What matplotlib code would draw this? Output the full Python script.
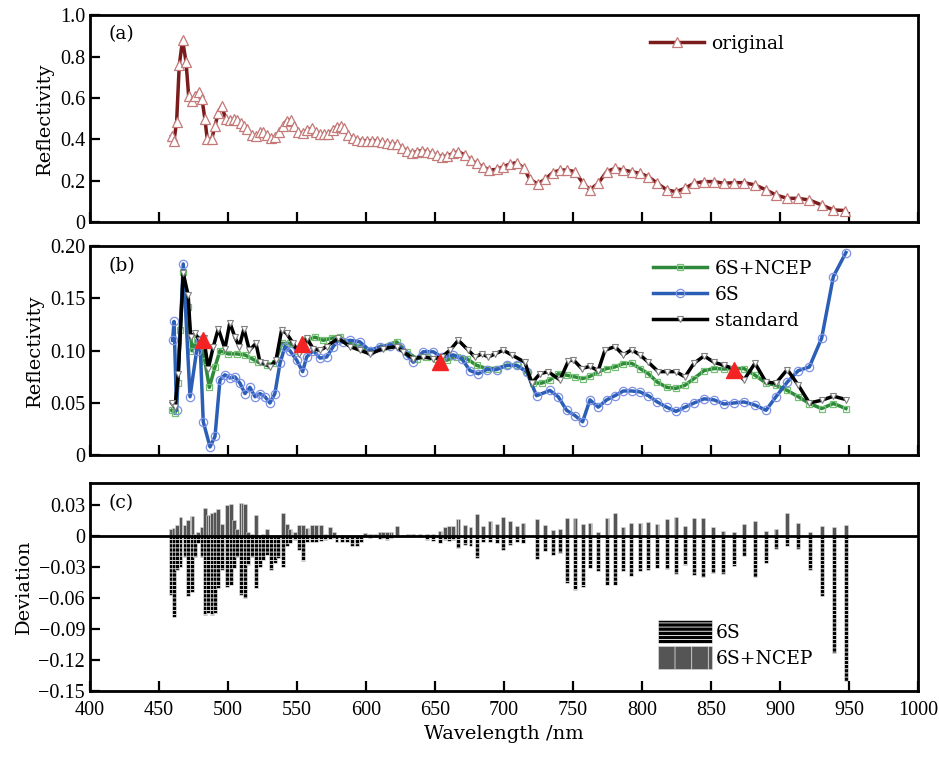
import matplotlib; matplotlib.use('Agg')
import numpy as np
import matplotlib.pyplot as plt

plt.rcParams['font.family'] = ['DejaVu Serif']
plt.rcParams['hatch.linewidth'] = 0.6

# (a) original reflectivity
wl_a = [459.2, 460.9, 462.8, 464.7, 467.1, 469.6, 471.5, 473.9, 476.3, 478.7, 481.2, 483.3, 485.0, 488.2,
        490.6, 493.0, 495.4, 498.6, 501.4, 504.3, 506.8, 509.2, 511.6, 514.0, 517.2, 520.3, 523.2, 525.6,
        528.0, 531.0, 534.0, 537.2, 540.0, 542.5, 545.4, 547.8, 551.0, 554.1, 557.5, 560.6, 563.8, 566.7,
        569.6, 572.7, 575.9, 578.7, 581.6, 584.1, 587.2, 590.3, 593.7, 597.3, 600.9, 604.1, 607.7, 611.3,
        615.0, 618.6, 622.2, 625.9, 629.5, 633.1, 636.7, 640.3, 644.0, 647.6, 651.2, 654.8, 658.5, 663.3,
        666.9, 671.7, 675.9, 680.2, 684.6, 689.4, 694.7, 699.5, 704.3, 709.2, 714.5, 718.8, 724.4, 729.7,
        735.3, 740.6, 745.9, 751.4, 757.0, 762.3, 768.3, 774.4, 780.4, 786.5, 792.5, 798.6, 804.6, 811.1,
        817.9, 824.6, 831.2, 837.7, 845.0, 852.2, 859.4, 866.7, 873.9, 881.9, 889.9, 897.1, 905.3, 913.3,
        921.3, 930.2, 938.7, 947.1]
original = [0.415, 0.393, 0.485, 0.758, 0.88, 0.775, 0.61, 0.585, 0.61, 0.628, 0.594, 0.497, 0.40, 0.40,
            0.464, 0.528, 0.56, 0.496, 0.495, 0.496, 0.495, 0.477, 0.464, 0.448, 0.42, 0.415, 0.433, 0.433,
            0.42, 0.404, 0.41, 0.436, 0.464, 0.49, 0.493, 0.464, 0.436, 0.428, 0.444, 0.452, 0.436, 0.426,
            0.426, 0.426, 0.444, 0.46, 0.464, 0.452, 0.42, 0.404, 0.396, 0.393, 0.393, 0.393, 0.393, 0.385,
            0.38, 0.377, 0.377, 0.36, 0.345, 0.332, 0.34, 0.345, 0.34, 0.332, 0.324, 0.316, 0.318, 0.332,
            0.34, 0.324, 0.30, 0.283, 0.267, 0.251, 0.254, 0.267, 0.28, 0.287, 0.259, 0.206, 0.184, 0.206,
            0.238, 0.251, 0.251, 0.243, 0.19, 0.155, 0.187, 0.243, 0.259, 0.251, 0.243, 0.235, 0.219, 0.187,
            0.155, 0.146, 0.163, 0.187, 0.195, 0.195, 0.187, 0.19, 0.19, 0.179, 0.155, 0.13, 0.114, 0.114,
            0.106, 0.082, 0.058, 0.055]

# (b) corrected reflectivity
wl_ncep = [459.2, 461.6, 463.5, 465.5, 467.6, 471.2, 473.9, 477.3, 480.5, 483.3, 486.5, 490.6, 494.2, 500.2,
           506.3, 512.3, 517.2, 522.0, 528.0, 534.0, 538.9, 544.9, 550.9, 557.0, 563.0, 569.0, 575.1, 581.2,
           588.4, 595.6, 602.9, 612.5, 622.2, 629.5, 636.7, 644.0, 651.2, 658.5, 665.7, 673.0, 680.2, 687.4,
           694.7, 701.9, 709.2, 716.4, 721.2, 727.3, 733.3, 739.3, 745.4, 751.4, 757.0, 762.3, 768.3, 774.4,
           780.4, 786.5, 792.5, 798.6, 804.6, 811.1, 817.9, 824.6, 831.2, 837.7, 845.0, 852.2, 859.4, 866.7,
           873.9, 881.9, 889.9, 897.1, 905.3, 913.3, 921.3, 930.2, 938.7, 947.8]
ncep = [0.043, 0.040, 0.069, 0.120, 0.175, 0.142, 0.100, 0.110, 0.105, 0.090, 0.065, 0.0845, 0.100, 0.097,
        0.097, 0.096, 0.0925, 0.089, 0.086, 0.088, 0.107, 0.107, 0.100, 0.110, 0.113, 0.110, 0.112, 0.113,
        0.107, 0.104, 0.100, 0.104, 0.1085, 0.099, 0.0925, 0.094, 0.0925, 0.091, 0.094, 0.0925, 0.086, 0.083,
        0.083, 0.086, 0.086, 0.080, 0.069, 0.069, 0.072, 0.078, 0.0766, 0.075, 0.0734, 0.0755, 0.0797, 0.083,
        0.0845, 0.0877, 0.088, 0.083, 0.078, 0.070, 0.065, 0.064, 0.067, 0.0734, 0.081, 0.083, 0.0825, 0.083,
        0.083, 0.0766, 0.069, 0.067, 0.062, 0.056, 0.0495, 0.0447, 0.0495, 0.0447]

wl_6s = [459.9, 460.9, 462.8, 467.6, 472.5, 477.3, 479.7, 482.1, 487.0, 490.6, 494.2, 497.8, 501.4, 505.0,
         508.7, 512.3, 515.9, 519.6, 523.2, 526.8, 530.4, 534.0, 537.7, 541.3, 544.9, 549.8, 554.1, 557.0,
         561.8, 566.7, 571.5, 576.3, 579.9, 583.6, 588.4, 595.6, 602.9, 610.1, 617.4, 624.6, 629.5, 634.3,
         641.5, 648.8, 654.8, 663.3, 669.3, 675.4, 681.4, 687.4, 694.7, 701.9, 709.2, 716.4, 723.6, 733.3,
         739.3, 745.4, 751.4, 757.0, 762.3, 768.3, 774.4, 780.4, 786.5, 792.5, 798.6, 804.6, 811.1, 817.9,
         824.6, 831.2, 837.7, 845.0, 852.2, 859.4, 866.7, 873.9, 881.9, 889.9, 897.1, 905.3, 913.3, 921.3,
         930.2, 938.7, 947.8]
s6 = [0.110, 0.128, 0.043, 0.183, 0.056, 0.100, 0.110, 0.032, 0.008, 0.018, 0.072, 0.077, 0.074, 0.075,
      0.069, 0.059, 0.065, 0.056, 0.059, 0.056, 0.050, 0.059, 0.088, 0.104, 0.100, 0.091, 0.080, 0.094,
      0.100, 0.093, 0.094, 0.104, 0.110, 0.108, 0.110, 0.1085, 0.100, 0.104, 0.105, 0.104, 0.096, 0.089,
      0.099, 0.099, 0.094, 0.096, 0.0925, 0.081, 0.078, 0.082, 0.082, 0.086, 0.086, 0.080, 0.057, 0.062,
      0.056, 0.043, 0.038, 0.032, 0.053, 0.046, 0.053, 0.057, 0.0615, 0.0615, 0.0606, 0.057, 0.051, 0.046,
      0.042, 0.046, 0.050, 0.054, 0.053, 0.049, 0.050, 0.051, 0.048, 0.043, 0.056, 0.070, 0.081, 0.0845,
      0.112, 0.171, 0.194]

wl_std = [459.2, 461.6, 464.0, 467.6, 471.2, 472.9, 476.0, 479.7, 482.5, 485.7, 489.4, 493.0, 497.8, 501.4,
          505.0, 508.2, 511.6, 515.5, 520.3, 523.2, 526.8, 530.4, 534.8, 538.9, 542.5, 547.3, 551.7, 557.0,
          561.8, 566.7, 571.5, 579.9, 588.4, 595.6, 602.9, 612.5, 622.2, 627.0, 634.3, 641.5, 648.8, 654.8,
          660.9, 666.9, 674.2, 679.0, 683.9, 688.7, 693.5, 699.5, 705.6, 715.2, 720.1, 726.1, 732.1, 740.6,
          746.6, 750.2, 756.3, 762.3, 768.3, 773.2, 780.4, 786.5, 792.5, 798.6, 804.6, 811.8, 817.9, 824.6,
          831.2, 837.7, 845.0, 852.2, 859.4, 866.2, 873.9, 881.9, 889.9, 897.1, 905.3, 913.3, 921.3, 930.2,
          938.7, 947.8]
standard = [0.050, 0.046, 0.078, 0.174, 0.153, 0.113, 0.1165, 0.110, 0.112, 0.083, 0.104, 0.121, 0.102, 0.127,
            0.113, 0.104, 0.121, 0.1005, 0.107, 0.089, 0.088, 0.0845, 0.091, 0.120, 0.1165, 0.107, 0.097, 0.112,
            0.102, 0.1005, 0.104, 0.112, 0.104, 0.1005, 0.097, 0.102, 0.104, 0.099, 0.0925, 0.094, 0.0925, 0.094,
            0.1005, 0.110, 0.1005, 0.094, 0.097, 0.094, 0.097, 0.1005, 0.096, 0.089, 0.069, 0.078, 0.080, 0.072,
            0.090, 0.0915, 0.083, 0.085, 0.081, 0.1005, 0.104, 0.096, 0.101, 0.096, 0.089, 0.080, 0.080, 0.080,
            0.075, 0.088, 0.095, 0.089, 0.086, 0.083, 0.072, 0.088, 0.070, 0.069, 0.082, 0.067, 0.050, 0.0526,
            0.0565, 0.0533]

wl_mark = [482, 554, 654, 867]
mark = [0.110, 0.106, 0.089, 0.082]

# (c) deviation
wl_c = [458.5, 460.9, 463.2, 465.6, 468.8, 471.3, 473.7, 476.1, 478.5, 480.9, 483.3, 485.8, 488.2, 490.6,
        493.0, 495.4, 499.5, 502.0, 504.4, 506.8, 509.2, 512.3, 514.7, 517.2, 520.3, 523.2, 525.6, 528.5,
        530.9, 534.1, 536.5, 539.6, 542.5, 545.0, 548.6, 551.7, 554.1, 557.0, 560.6, 563.8, 567.2, 570.3,
        573.9, 576.8, 578.7, 582.4, 586.0, 589.6, 593.2, 596.1, 599.3, 602.9, 606.5, 610.1, 612.6, 615.0,
        617.9, 622.2, 627.1, 630.7, 634.3, 639.1, 644.0, 648.8, 653.6, 657.2, 660.2, 663.3, 666.9, 671.7,
        675.8, 680.2, 685.0, 689.9, 694.7, 699.5, 704.4, 709.2, 714.0, 723.7, 729.7, 735.3, 740.6, 745.9,
        751.5, 757.0, 762.3, 768.4, 774.4, 780.4, 786.0, 791.8, 798.6, 804.6, 811.1, 817.9, 824.6, 831.2,
        837.7, 844.4, 851.7, 858.9, 866.7, 873.9, 881.9, 889.9, 897.1, 905.3, 913.3, 921.7, 930.2, 939.1,
        947.8]
dev_ncep = [0.0065, 0.0075, 0.0106, 0.0187, 0.0106, 0.0155, 0.0194, 0.002, 0.004, 0.009, 0.0268, 0.0203,
            0.022, 0.0235, 0.0258, 0.0116, 0.030, 0.031, 0.0155, 0.0065, 0.0323, 0.031, 0.004, 0.002, 0.0203,
            0.001, 0.002, 0.0065, 0.001, 0.001, 0.001, 0.022, 0.0116, 0.0065, 0.004, 0.0106, 0.0106, 0.0075,
            0.0106, 0.011, 0.011, 0.002, 0.009, 0.004, 0.001, 0.001, 0.001, 0.001, 0.001, 0.001, 0.003, 0.002,
            0.002, 0.004, 0.004, 0.004, 0.004, 0.0097, 0.001, 0.002, 0.002, 0.002, 0.002, 0.002, 0.005, 0.009,
            0.0097, 0.0097, 0.016, 0.0106, 0.009, 0.021, 0.0097, 0.0148, 0.0113, 0.0187, 0.0145, 0.0097, 0.013,
            0.0165, 0.0106, 0.0058, 0.0065, 0.0171, 0.0171, 0.0116, 0.013, 0.004, 0.0177, 0.022, 0.0084, 0.013,
            0.0123, 0.0139, 0.0116, 0.016, 0.018, 0.0097, 0.0171, 0.0171, 0.009, 0.005, 0.004, 0.0116, 0.0145,
            0.0048, 0.0065, 0.0226, 0.013, 0.0035, 0.0097, 0.009, 0.0106]
dev_6s = [-0.057, -0.078, -0.033, -0.0297, -0.020, -0.058, -0.054, -0.020, -0.007, -0.020, -0.0765, -0.075,
          -0.0765, -0.075, -0.0506, -0.033, -0.049, -0.0475, -0.031, -0.020, -0.057, -0.060, -0.028, -0.020,
          -0.0506, -0.0297, -0.023, -0.018, -0.033, -0.0265, -0.0216, -0.0297, -0.010, -0.007, -0.004, -0.0135,
          -0.024, -0.0055, -0.0055, -0.0055, -0.005, -0.004, -0.003, -0.002, -0.006, -0.006, -0.0055, -0.010,
          -0.0095, -0.0055, -0.001, -0.002, -0.001, -0.003, -0.002, -0.004, -0.002, -0.001, -0.001, -0.001,
          -0.001, -0.001, -0.004, -0.005, -0.007, -0.004, -0.005, -0.004, -0.0113, -0.0087, -0.010, -0.0216,
          -0.0055, -0.0055, -0.007, -0.0135, -0.0087, -0.0055, -0.007, -0.0226, -0.0142, -0.0184, -0.0168,
          -0.0458, -0.052, -0.0497, -0.0313, -0.0335, -0.0474, -0.0474, -0.0335, -0.0387, -0.0335, -0.033,
          -0.0306, -0.032, -0.0368, -0.028, -0.0377, -0.040, -0.036, -0.0368, -0.029, -0.0194, -0.040, -0.0258,
          -0.0129, -0.010, -0.0129, -0.033, -0.058, -0.1136, -0.140]

xticks = np.arange(400, 1001, 50)
fs = 13.5
tick_font = {'family': 'Liberation Serif', 'size': 14.5}

fig = plt.figure(figsize=(9.39, 7.6), dpi=100)
ax_a = fig.add_axes([0.0958, 0.708, 0.8818, 0.272])
ax_b = fig.add_axes([0.0958, 0.401, 0.8818, 0.275])
ax_c = fig.add_axes([0.0958, 0.091, 0.8818, 0.273])

def style(ax):
  for s in ax.spines.values():
    s.set_linewidth(2)
  ax.tick_params(direction='in', length=7, width=1.6, top=False, right=False)
  ax.set_xlim(400, 1000)
  ax.set_xticks(xticks)

def ylabels(ax, ticks, labels):
  ax.set_yticks(ticks)
  ax.set_yticklabels(labels, fontdict=tick_font)

# panel (a)
ax_a.plot(wl_a, original, '-', color='#7a1c1c', lw=2.5, marker='^', ms=7, mfc='white',
          mec='#c47878', mew=0.9, label='original')
style(ax_a)
ax_a.set_ylim(0, 1.0)
ylabels(ax_a, [0, 0.2, 0.4, 0.6, 0.8, 1.0], ['0', '0.2', '0.4', '0.6', '0.8', '1.0'])
ax_a.set_xticklabels([])
ax_a.set_ylabel('Reflectivity', fontsize=fs + 0.5)
ax_a.text(0.022, 0.95, '(a)', transform=ax_a.transAxes, fontsize=fs, va='top')
ax_a.legend(loc='upper left', bbox_to_anchor=(0.676, 0.905), frameon=False, fontsize=fs,
            handlelength=2.9, handletextpad=0.4, borderpad=0, borderaxespad=0)

# panel (b)
ax_b.plot(wl_ncep, ncep, '-', color='#2e8a3a', lw=2.5, marker='s', ms=5, mfc='none',
          mec='#74c174', mew=0.9, label='6S+NCEP')
ax_b.plot(wl_6s, s6, '-', color='#2b5fb5', lw=2.5, marker='o', ms=6, mfc='none',
          mec='#7e92e6', mew=0.9, label='6S')
ax_b.plot(wl_std, standard, '-', color='black', lw=2.5, marker='v', ms=4.5, mfc='white',
          mec='#808080', mew=0.8, label='standard')
ax_b.plot(wl_mark, mark, '^', color='#f42323', ms=11, ls='none')
style(ax_b)
ax_b.set_ylim(0, 0.2)
ylabels(ax_b, [0, 0.05, 0.10, 0.15, 0.20], ['0', '0.05', '0.10', '0.15', '0.20'])
ax_b.set_xticklabels([])
ax_b.set_ylabel('Reflectivity', fontsize=fs + 0.5)
ax_b.text(0.022, 0.95, '(b)', transform=ax_b.transAxes, fontsize=fs, va='top')
ax_b.legend(loc='upper left', bbox_to_anchor=(0.68, 0.935), frameon=False, fontsize=fs,
            handlelength=2.9, handletextpad=0.4, labelspacing=0.42, borderpad=0, borderaxespad=0)

# panel (c)
ax_c.bar(wl_c, dev_6s, width=2.8, color='black', edgecolor='white', linewidth=0.4,
         hatch='----', label='6S')
ax_c.bar(wl_c, dev_ncep, width=2.8, color='#555555', edgecolor='#dddddd', linewidth=0.4,
         hatch='|', label='6S+NCEP')
ax_c.axhline(0, color='black', lw=2)
style(ax_c)
ax_c.set_ylim(-0.15, 0.051)
ylabels(ax_c, [0.03, 0, -0.03, -0.06, -0.09, -0.12, -0.15],
        ['0.03', '0', '\u22120.03', '\u22120.06', '\u22120.09', '\u22120.12', '\u22120.15'])
ax_c.set_xticklabels([str(x) for x in xticks], fontdict=tick_font)
ax_c.tick_params(axis='x', pad=7)
ax_c.set_ylabel('Deviation', fontsize=fs + 0.5)
ax_c.set_xlabel('Wavelength /nm', fontsize=fs + 0.5)
ax_c.text(0.022, 0.95, '(c)', transform=ax_c.transAxes, fontsize=fs, va='top')
ax_c.legend(loc='upper left', bbox_to_anchor=(0.686, 0.34), frameon=False, fontsize=fs,
            handlelength=2.9, handleheight=1.5, handletextpad=0.2, labelspacing=0.15,
            borderpad=0, borderaxespad=0)

fig.savefig('out.png', dpi=100)
